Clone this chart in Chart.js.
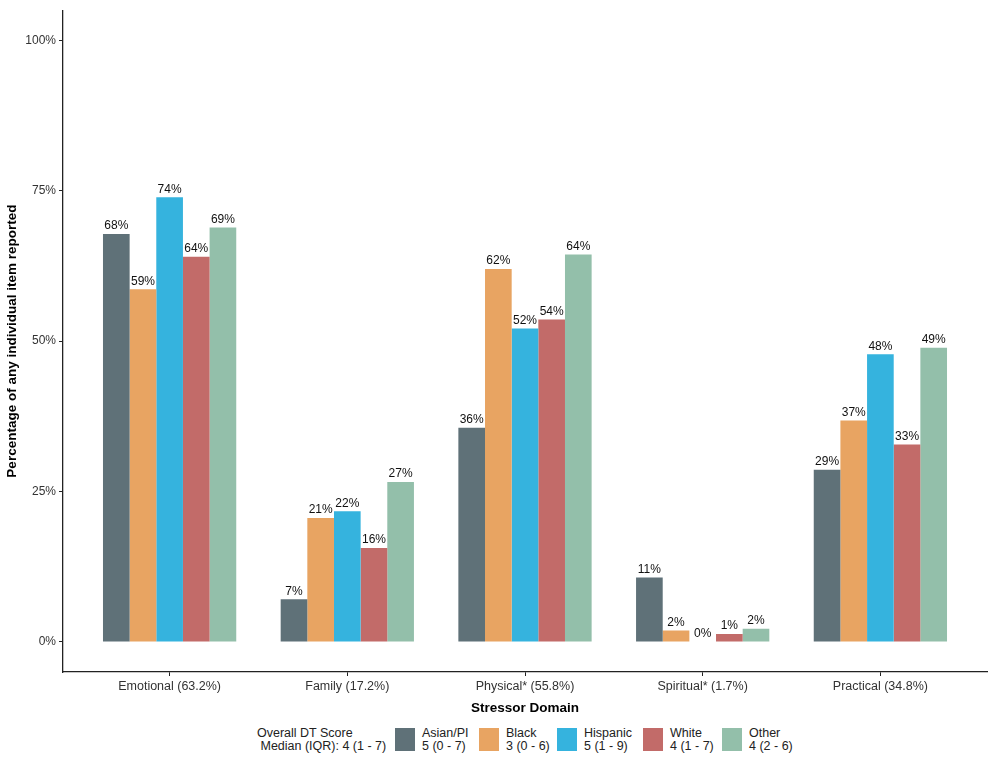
<!DOCTYPE html>
<html>
<head>
<meta charset="utf-8">
<script src="https://cdn.jsdelivr.net/npm/chart.js@4/dist/chart.umd.min.js"></script>
<style>
    body { margin: 0; background: #fff; font-family: "Liberation Sans", Arial, sans-serif; }
    #wrap { position: relative; width: 990px; height: 758px; }
    #legend { position: absolute; left: 0; top: 722px; width: 990px; height: 36px; color: #222; font-size: 12.5px; }
    .lg-title { position: absolute; left: 257px; top: 5px; line-height: 13px; }
    .lg-key { position: absolute; top: 6px; width: 20px; height: 23px; }
    .lg-text { position: absolute; top: 5px; line-height: 13px; white-space: nowrap; }
</style>
</head>
<body>
<div id="wrap">
    <canvas id="domainChart" width="990" height="722"></canvas>
    <div id="legend"></div>
</div>
<script>
const categories = ['Emotional (63.2%)', 'Family (17.2%)', 'Physical* (55.8%)', 'Spiritual* (1.7%)', 'Practical (34.8%)'];
const groups = ['Asian/PI', 'Black', 'Hispanic', 'White', 'Other'];
const groupMedians = ['5 (0 - 7)', '3 (0 - 6)', '5 (1 - 9)', '4 (1 - 7)', '4 (2 - 6)'];
const colors = ['#5F7178', '#E8A462', '#35B3DE', '#C26B69', '#93BFAA'];

const asianPI = [67.8, 7.1, 35.6, 10.7, 28.6];
const black = [58.6, 20.6, 62.0, 1.9, 36.8];
const hispanic = [73.9, 21.7, 52.1, 0, 47.8];
const white = [64.0, 15.6, 53.6, 1.3, 32.8];
const other = [68.9, 26.6, 64.4, 2.2, 48.9];

const yTicks = [0, 25, 50, 75, 100];
const legendTitle = ['Overall DT Score', '\u00a0Median (IQR): 4 (1 - 7)'];

const seriesValues = [asianPI, black, hispanic, white, other];
const FONT = '"Liberation Sans", Arial, sans-serif';

// bar value labels drawn above each bar
const barLabels = {
    id: 'barLabels',
    afterDatasetsDraw(chart) {
        const ctx = chart.ctx;
        ctx.save();
        ctx.font = '12px ' + FONT;
        ctx.fillStyle = '#111';
        ctx.textAlign = 'center';
        ctx.textBaseline = 'bottom';
        chart.data.datasets.forEach((ds, i) => {
            const meta = chart.getDatasetMeta(i);
            meta.data.forEach((bar, j) => {
                const v = ds.data[j].y;
                ctx.fillText(Math.round(v) + '%', bar.x, bar.y - 2);
            });
        });
        ctx.restore();
    }
};

const ctx = document.getElementById('domainChart').getContext('2d');

new Chart(ctx, {
    type: 'bar',
    data: {
        datasets: groups.map((g, i) => ({
            label: g,
            data: seriesValues[i].map((v, j) => ({ x: j + 1, y: v })),
            backgroundColor: colors[i],
            borderWidth: 0,
            categoryPercentage: 0.75,
            barPercentage: 1
        }))
    },
    options: {
        responsive: false,
        animation: false,
        devicePixelRatio: 1,
        layout: {
            padding: { top: 6, right: 3, left: 0, bottom: 0 }
        },
        plugins: {
            legend: { display: false },
            tooltip: { enabled: false }
        },
        scales: {
            x: {
                type: 'linear',
                min: 0.4,
                max: 5.6,
                offset: false,
                afterBuildTicks: function (scale) {
                    scale.ticks = categories.map((c, i) => ({ value: i + 1 }));
                },
                afterFit: function (scale) {
                    scale.height = 50;
                },
                border: { display: true, color: '#222', width: 1.3 },
                grid: {
                    display: true,
                    drawOnChartArea: false,
                    drawTicks: true,
                    tickLength: 4,
                    offset: false,
                    color: '#222'
                },
                ticks: {
                    autoSkip: false,
                    maxRotation: 0,
                    padding: 3,
                    color: '#333',
                    font: { family: FONT, size: 12.5 },
                    callback: function (value) {
                        return categories[value - 1];
                    }
                },
                title: {
                    display: true,
                    text: 'Stressor Domain',
                    color: '#000',
                    font: { family: FONT, size: 13.5, weight: 'bold' },
                    padding: { top: 2, bottom: 6 }
                }
            },
            y: {
                min: -5,
                max: 105,
                afterBuildTicks: function (scale) {
                    scale.ticks = yTicks.map(v => ({ value: v }));
                },
                afterFit: function (scale) {
                    scale.width = 63;
                },
                border: { display: true, color: '#222', width: 1.3 },
                grid: {
                    display: true,
                    drawOnChartArea: false,
                    drawTicks: true,
                    tickLength: 4,
                    color: '#222'
                },
                ticks: {
                    padding: 3,
                    color: '#333',
                    font: { family: FONT, size: 12 },
                    callback: function (value) {
                        return value + '%';
                    }
                },
                title: {
                    display: true,
                    text: 'Percentage of any individual item reported',
                    color: '#000',
                    font: { family: FONT, size: 13.5, weight: 'bold' },
                    padding: { top: 4, bottom: 0 }
                }
            }
        }
    },
    plugins: [barLabels]
});

// legend below the plot
const keyLeft = [395, 479, 557, 643, 722];
const legend = document.getElementById('legend');
let html = '<div class="lg-title">' + legendTitle.join('<br>') + '</div>';
groups.forEach((g, i) => {
    html += '<div class="lg-key" style="left:' + keyLeft[i] + 'px;background:' + colors[i] + '"></div>';
    html += '<div class="lg-text" style="left:' + (keyLeft[i] + 27) + 'px">' + g + '<br>' + groupMedians[i] + '</div>';
});
legend.innerHTML = html;
</script>
</body>
</html>
